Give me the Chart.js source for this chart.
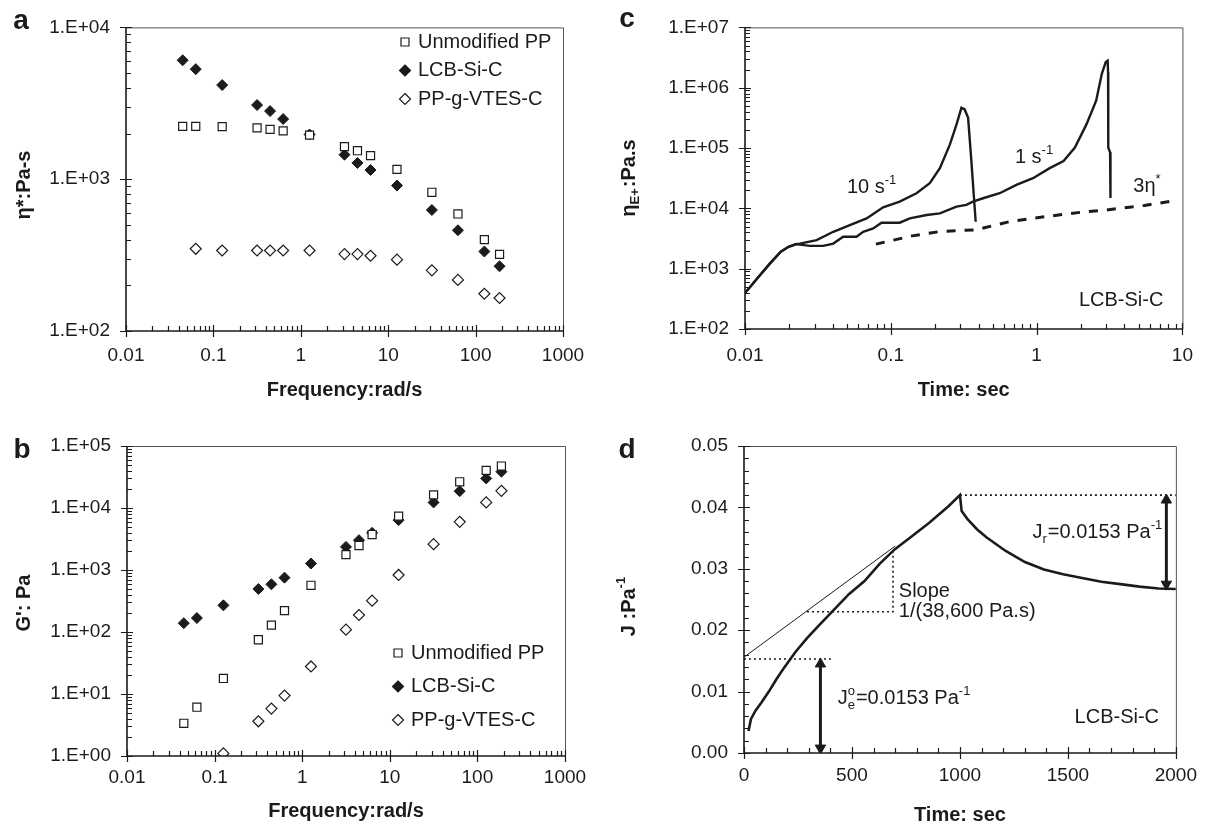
<!DOCTYPE html>
<html lang="en">
<head>
  <meta charset="UTF-8" />
  <title>LCB-Si-C rheology</title>
  <script src="https://cdn.jsdelivr.net/npm/chart.js"></script>
  <style>
    body { margin: 0; background: #fff; }
    #wrap { position: relative; width: 1208px; height: 826px; }
    canvas { position: absolute; }
  </style>
</head>
<body>
  <div id="wrap">
    <canvas id="pa" width="604" height="413" style="left:0;top:0"></canvas>
    <canvas id="pc" width="604" height="413" style="left:604px;top:0"></canvas>
    <canvas id="pb" width="604" height="413" style="left:0;top:413px"></canvas>
    <canvas id="pd" width="604" height="413" style="left:604px;top:413px"></canvas>
  </div>

  <script>
    // ---- panel a / b : frequency sweeps ----
    const freq = [0.0445, 0.0628, 0.126, 0.316, 0.445, 0.628, 1.26, 3.16, 4.45, 6.28, 12.6, 31.6, 62.8, 126, 188];
    const freqVtesA = [0.0628, 0.126, 0.316, 0.445, 0.628, 1.26, 3.16, 4.45, 6.28, 12.6, 31.6, 62.8, 126, 188];
    const freqVtesB = [0.126, 0.316, 0.445, 0.628, 1.26, 3.16, 4.45, 6.28, 12.6, 31.6, 62.8, 126, 188];

    const etaPP   = [2230, 2230, 2220, 2180, 2130, 2080, 1950, 1640, 1540, 1430, 1160, 820, 590, 400, 320];
    const etaLCB  = [6070, 5310, 4170, 3080, 2810, 2490, 1970, 1450, 1280, 1150, 908, 627, 461, 334, 267];
    const etaVTES = [348, 339, 339, 339, 339, 339, 321, 321, 313, 295, 251, 217, 176, 165];

    const gPP   = [3.37, 6.12, 17.8, 75, 129, 221, 567, 1770, 2480, 3730, 7390, 16300, 26500, 40400, 47500];
    const gLCB  = [139, 168, 269, 494, 588, 753, 1270, 2360, 3030, 3970, 6370, 12300, 18700, 30000, 38500];
    const gVTES = [1.10, 3.63, 5.82, 9.44, 27.8, 109, 188, 320, 832, 2610, 5980, 12300, 18900];

    const seriesNames = ["Unmodified PP", "LCB-Si-C", "PP-g-VTES-C"];

    const freqTicks = [0.01, 0.1, 1, 10, 100, 1000];
    const freqLabels = ["0.01", "0.1", "1", "10", "100", "1000"];
    const etaTicks = [100, 1000, 10000];
    const etaLabels = ["1.E+02", "1.E+03", "1.E+04"];
    const gTicks = [1, 10, 100, 1000, 10000, 100000];
    const gLabels = ["1.E+00", "1.E+01", "1.E+02", "1.E+03", "1.E+04", "1.E+05"];

    // ---- panel c : extensional viscosity ----
    const t10 = [0.01, 0.0122, 0.0147, 0.0176, 0.0199, 0.0225, 0.0238, 0.031, 0.0403, 0.0524, 0.0682, 0.0886, 0.115, 0.150,
                 0.185, 0.217, 0.254, 0.282, 0.305, 0.321, 0.339, 0.357, 0.382];
    const eta10 = [394, 702, 1190, 1910, 2310, 2560, 2600, 2970, 4090, 5290, 6810, 10400, 12900, 17800,
                   26100, 46400, 114000, 245000, 464000, 436000, 316000, 60000, 6000];
    const t1 = [0.01, 0.0122, 0.0147, 0.0176, 0.0199, 0.0225, 0.0238, 0.0279, 0.0344, 0.0403, 0.0471, 0.0582, 0.0646,
                0.0757, 0.0863, 0.115, 0.135, 0.176, 0.217, 0.282, 0.330, 0.366, 0.429, 0.558, 0.726, 0.944, 1.23,
                1.53, 1.83, 2.20, 2.56, 2.80, 2.98, 3.07, 3.09, 3.10, 3.19, 3.21];
    const eta1 = [394, 702, 1190, 1910, 2310, 2560, 2510, 2390, 2390, 2610, 3380, 3380, 4090,
                  4640, 5780, 5780, 6810, 7760, 8260, 10700, 11400, 12900, 14700, 17800, 24500, 31600, 46400,
                  60800, 101600, 249000, 611000, 1700000, 2670000, 2800000, 1800000, 102000, 85000, 14800];
    const t3eta = [0.079, 0.14, 0.22, 0.38, 0.65, 1.2, 2.0, 3.0, 5.5, 9.0];
    const eta3 = [2550, 3500, 4150, 4400, 6000, 7400, 8600, 9400, 11200, 13500];

    const timeTicks = [0.01, 0.1, 1, 10];
    const timeLabels = ["0.01", "0.1", "1", "10"];
    const etaETicks = [100, 1000, 10000, 100000, 1000000, 10000000];
    const etaELabels = ["1.E+02", "1.E+03", "1.E+04", "1.E+05", "1.E+06", "1.E+07"];

    // ---- panel d : creep / recovery ----
    const creepT = [21, 32, 53, 80, 115, 150, 186, 239, 292, 345, 416, 487, 558, 628, 699, 770, 858, 947, 1000,
                    1008, 1035, 1080, 1124, 1212, 1301, 1389, 1478, 1566, 1655, 1743, 1832, 1920, 2000];
    const creepJ = [0.0036, 0.0055, 0.0069, 0.0082, 0.0100, 0.0120, 0.0139, 0.0165, 0.0187, 0.0207, 0.0233, 0.0259,
                    0.0280, 0.0308, 0.0332, 0.0351, 0.0375, 0.0402, 0.0420, 0.0394, 0.0381, 0.0364, 0.0351, 0.0329,
                    0.0311, 0.0299, 0.0291, 0.0285, 0.0279, 0.0275, 0.0271, 0.0268, 0.0267];
    const tangentT = [0, 700];
    const tangentJ = [0.0156, 0.0337];
    const jeDotT = [0, 407];
    const jeDotJ = [0.0153, 0.0153];
    const slopeDotT = [292, 690, 690];
    const slopeDotJ = [0.0230, 0.0230, 0.0333];
    const topDotT = [1000, 2000];
    const topDotJ = [0.0420, 0.0420];
    const jeArrowT = [354, 354];
    const jeArrowJ = [0.0145, 0.0008];
    const jrArrowT = [1956, 1956];
    const jrArrowJ = [0.0412, 0.0275];

    const creepTicks = [0, 500, 1000, 1500, 2000];
    const creepLabels = ["0", "500", "1000", "1500", "2000"];
    const jTicks = [0, 0.01, 0.02, 0.03, 0.04, 0.05];
    const jLabels = ["0.00", "0.01", "0.02", "0.03", "0.04", "0.05"];

    const FONT = '"Liberation Sans", Arial, sans-serif';
    const INK = "#1b1b1b";
    Chart.defaults.font.family = FONT;
    Chart.defaults.font.size = 19;
    Chart.defaults.color = INK;

    const pts = (xs, ys) => xs.map((x, i) => ({ x, y: ys[i] }));

    function logMinor(lo, hi) {
      const out = [];
      for (let e = lo; e < hi; e++) for (let m = 2; m <= 9; m++) out.push(m * Math.pow(10, e));
      return out;
    }
    function linMinor(max, step) {
      const out = [];
      for (let v = step; v < max - step / 2; v += step) out.push(v);
      return out;
    }

    const fontStr = (size, bold) => (bold ? "bold " : "") + size + "px " + FONT;

    // parts: strings or {sup, sub}
    function drawRich(ctx, parts, x, y, size, bold, align) {
      const small = Math.round(size * 0.66);
      const widths = parts.map(p => {
        if (typeof p === "string") { ctx.font = fontStr(size, bold); return ctx.measureText(p).width; }
        ctx.font = fontStr(small, bold);
        return Math.max(p.sup ? ctx.measureText(p.sup).width : 0, p.sub ? ctx.measureText(p.sub).width : 0) + 1;
      });
      const total = widths.reduce((a, b) => a + b, 0);
      let cx = align === "center" ? x - total / 2 : align === "right" ? x - total : x;
      ctx.textAlign = "left";
      ctx.textBaseline = "middle";
      parts.forEach((p, i) => {
        if (typeof p === "string") {
          ctx.font = fontStr(size, bold);
          ctx.fillText(p, cx, y);
        } else {
          ctx.font = fontStr(small, bold);
          if (p.sup) ctx.fillText(p.sup, cx, y - size * 0.36);
          if (p.sub) ctx.fillText(p.sub, cx, y + size * 0.32);
        }
        cx += widths[i];
      });
    }

    function marker(ctx, kind, x, y) {
      ctx.beginPath();
      if (kind === "square") {
        ctx.rect(x - 4, y - 4, 8, 8);
      } else {
        ctx.moveTo(x, y - 5.5); ctx.lineTo(x + 5.5, y); ctx.lineTo(x, y + 5.5); ctx.lineTo(x - 5.5, y); ctx.closePath();
      }
      ctx.fillStyle = kind === "filled" ? INK : "#fff";
      ctx.fill();
      ctx.lineWidth = 1.2;
      ctx.strokeStyle = INK;
      ctx.stroke();
    }

    const decor = {
      id: "decor",
      afterDraw(chart, args, o) {
        const { ctx, chartArea: a } = chart;
        const sx = chart.scales.x, sy = chart.scales.y;
        ctx.save();
        // box
        ctx.strokeStyle = "#555";
        ctx.lineWidth = 1;
        ctx.beginPath();
        ctx.moveTo(a.left, a.top + 0.5);
        ctx.lineTo(a.right + 0.5, a.top + 0.5);
        ctx.lineTo(a.right + 0.5, a.bottom);
        ctx.stroke();
        ctx.strokeStyle = INK;
        ctx.lineWidth = 1.6;
        ctx.beginPath();
        ctx.moveTo(a.left, a.top);
        ctx.lineTo(a.left, a.bottom);
        ctx.lineTo(a.right, a.bottom);
        ctx.stroke();
        // tick marks
        ctx.lineWidth = 1.2;
        ctx.beginPath();
        o.xMajor.forEach(v => { const p = Math.round(sx.getPixelForValue(v)) + 0.5; ctx.moveTo(p, a.bottom - 6); ctx.lineTo(p, a.bottom + 6); });
        o.xMinor.forEach(v => { const p = Math.round(sx.getPixelForValue(v)) + 0.5; ctx.moveTo(p, a.bottom - 5); ctx.lineTo(p, a.bottom); });
        o.yMajor.forEach(v => { const p = Math.round(sy.getPixelForValue(v)) + 0.5; ctx.moveTo(a.left - 6, p); ctx.lineTo(a.left + 6, p); });
        o.yMinor.forEach(v => { const p = Math.round(sy.getPixelForValue(v)) + 0.5; ctx.moveTo(a.left, p); ctx.lineTo(a.left + 5, p); });
        ctx.stroke();

        ctx.fillStyle = INK;
        // panel letter
        ctx.font = fontStr(28, true);
        ctx.textAlign = "center";
        ctx.textBaseline = "middle";
        ctx.fillText(o.letter[0], o.letter[1], o.letter[2]);
        // x title
        drawRich(ctx, [o.xTitle[0]], (a.left + a.right) / 2, o.xTitle[1], 20, true, "center");
        // y title (rotated)
        ctx.save();
        ctx.translate(o.yTitle[1], o.yTitle[2]);
        ctx.rotate(-Math.PI / 2);
        drawRich(ctx, o.yTitle[0], 0, 0, 20, true, "center");
        ctx.restore();
        // notes in data coordinates
        (o.notes || []).forEach(n => {
          ctx.fillStyle = INK;
          drawRich(ctx, n.parts, sx.getPixelForValue(n.x), sy.getPixelForValue(n.y), 20, false, n.align || "left");
        });
        // legend
        if (o.legend) {
          const [lx, ly, gap] = o.legend;
          ["square", "filled", "open"].forEach((k, i) => {
            marker(ctx, k, lx, ly + i * gap);
            ctx.fillStyle = INK;
            ctx.font = fontStr(20, false);
            ctx.textAlign = "left";
            ctx.textBaseline = "middle";
            ctx.fillText(seriesNames[i], lx + 13, ly + i * gap);
          });
        }
        ctx.restore();
      }
    };

    function axis(type, min, max, ticks, labels, size, horizontal, pad) {
      return {
        type, min, max,
        grid: { display: false, drawTicks: false },
        border: { display: false },
        afterBuildTicks: s => { s.ticks = ticks.map(v => ({ value: v })); },
        afterFit: s => { if (horizontal) s.height = size; else s.width = size; },
        ticks: { autoSkip: false, maxRotation: 0, padding: pad, callback: (v, i) => labels[i] }
      };
    }

    function panel(id, area, datasets, scales, deco) {
      new Chart(document.getElementById(id), {
        type: "scatter",
        data: { datasets },
        options: {
          responsive: false,
          animation: false,
          events: [],
          layout: { padding: { left: 0, top: area.top, right: 604 - area.right, bottom: 0 } },
          plugins: { legend: { display: false }, tooltip: { enabled: false }, decor: deco },
          scales: {
            x: axis(scales.x[0], scales.x[1], scales.x[2], scales.x[3], scales.x[4], 413 - area.bottom, true, area.xpad),
            y: axis(scales.y[0], scales.y[1], scales.y[2], scales.y[3], scales.y[4], area.left, false, 16)
          }
        },
        plugins: [decor]
      });
    }

    const sq = { pointStyle: "rect", pointRadius: 5.7, backgroundColor: "#fff", borderColor: INK, borderWidth: 1.2 };
    const fd = { pointStyle: "rectRot", pointRadius: 5.5, backgroundColor: INK, borderColor: INK, borderWidth: 1 };
    const od = { pointStyle: "rectRot", pointRadius: 5.5, backgroundColor: "#fff", borderColor: INK, borderWidth: 1.2 };

    // a
    panel("pa", { left: 126, top: 21, right: 563, bottom: 331, xpad: 13 }, [
      Object.assign({ label: seriesNames[0], data: pts(freq, etaPP) }, sq),
      Object.assign({ label: seriesNames[1], data: pts(freq, etaLCB) }, fd),
      Object.assign({ label: seriesNames[2], data: pts(freqVtesA, etaVTES) }, od)
    ], {
      x: ["logarithmic", 0.01, 1000, freqTicks, freqLabels],
      y: ["logarithmic", 100, 10000, etaTicks, etaLabels]
    }, {
      xMajor: freqTicks, xMinor: logMinor(-2, 3), yMajor: etaTicks, yMinor: logMinor(2, 4),
      letter: ["a", 21, 21], xTitle: ["Frequency:rad/s", 390], yTitle: [["η*:Pa-s"], 24, 185],
      legend: [405, 42, 28.5]
    });

    // b
    panel("pb", { left: 127, top: 33, right: 565, bottom: 343, xpad: 10 }, [
      Object.assign({ label: seriesNames[0], data: pts(freq, gPP) }, sq),
      Object.assign({ label: seriesNames[1], data: pts(freq, gLCB) }, fd),
      Object.assign({ label: seriesNames[2], data: pts(freqVtesB, gVTES) }, od)
    ], {
      x: ["logarithmic", 0.01, 1000, freqTicks, freqLabels],
      y: ["logarithmic", 1, 100000, gTicks, gLabels]
    }, {
      xMajor: freqTicks, xMinor: logMinor(-2, 3), yMajor: gTicks, yMinor: logMinor(0, 5),
      letter: ["b", 22, 37], xTitle: ["Frequency:rad/s", 398], yTitle: [["G': Pa"], 24, 190],
      legend: [398, 240, 33.5]
    });

    // c
    const solid = { showLine: true, pointRadius: 0, borderColor: INK, borderWidth: 2.4, fill: false };
    panel("pc", { left: 141, top: 27, right: 579, bottom: 329, xpad: 15 }, [
      Object.assign({ label: "10 s-1", data: pts(t10, eta10) }, solid),
      Object.assign({ label: "1 s-1", data: pts(t1, eta1) }, solid),
      Object.assign({ label: "3η*", data: pts(t3eta, eta3) }, solid, { borderWidth: 3, borderDash: [9, 9] })
    ], {
      x: ["logarithmic", 0.01, 10, timeTicks, timeLabels],
      y: ["logarithmic", 100, 10000000, etaETicks, etaELabels]
    }, {
      xMajor: timeTicks, xMinor: logMinor(-2, 1), yMajor: etaETicks, yMinor: logMinor(2, 7),
      letter: ["c", 23, 19], xTitle: ["Time: sec", 390], yTitle: [["η", { sub: "E+" }, ":Pa.s"], 25, 178],
      notes: [
        { parts: ["10 s", { sup: "-1" }], x: 0.05, y: 21800 },
        { parts: ["1 s", { sup: "-1" }], x: 0.71, y: 69000 },
        { parts: ["3η", { sup: "*" }], x: 4.6, y: 23200 },
        { parts: ["LCB-Si-C"], x: 1.95, y: 297 }
      ]
    });

    // d
    const dotted = { showLine: true, pointRadius: 0, borderColor: INK, borderWidth: 1.6, borderDash: [2, 3], fill: false };
    const arrow = {
      showLine: true, borderColor: INK, borderWidth: 3, pointStyle: "triangle", pointRadius: 6,
      pointRotation: [0, 180], backgroundColor: INK, pointBorderWidth: 1
    };
    panel("pd", { left: 140, top: 33, right: 578, bottom: 340, xpad: 11 }, [
      Object.assign({ label: "J", data: pts(creepT, creepJ) }, solid, { borderWidth: 2.6 }),
      Object.assign({ label: "tangent", data: pts(tangentT, tangentJ) }, solid, { borderWidth: 1 }),
      Object.assign({ label: "je", data: pts(jeDotT, jeDotJ) }, dotted),
      Object.assign({ label: "slope", data: pts(slopeDotT, slopeDotJ) }, dotted),
      Object.assign({ label: "top", data: pts(topDotT, topDotJ) }, dotted),
      Object.assign({ label: "je arrow", data: pts(jeArrowT, jeArrowJ) }, arrow),
      Object.assign({ label: "jr arrow", data: pts(jrArrowT, jrArrowJ) }, arrow)
    ], {
      x: ["linear", 0, 2000, creepTicks, creepLabels],
      y: ["linear", 0, 0.05, jTicks, jLabels]
    }, {
      xMajor: creepTicks, xMinor: linMinor(2000, 100), yMajor: jTicks, yMinor: linMinor(0.05, 0.002),
      letter: ["d", 23, 37], xTitle: ["Time: sec", 402], yTitle: [["J :Pa", { sup: "-1" }], 25, 193],
      notes: [
        { parts: ["Slope"], x: 717, y: 0.0263 },
        { parts: ["1/(38,600 Pa.s)"], x: 717, y: 0.0231 },
        { parts: ["J", { sub: "r" }, "=0.0153 Pa", { sup: "-1" }], x: 1336, y: 0.0359 },
        { parts: ["J", { sub: "e", sup: "o" }, "=0.0153 Pa", { sup: "-1" }], x: 434, y: 0.0088 },
        { parts: ["LCB-Si-C"], x: 1531, y: 0.0058 }
      ]
    });
  </script>
</body>
</html>
